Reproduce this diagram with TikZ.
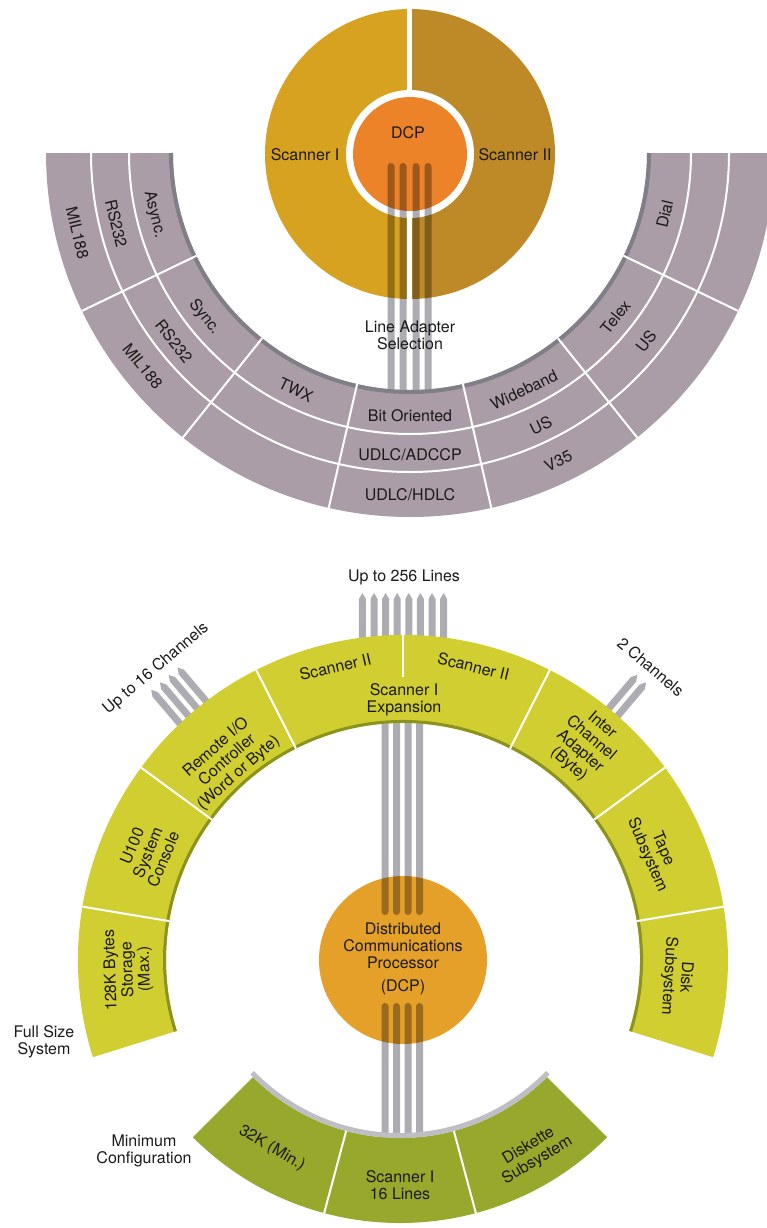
\documentclass[tikz,border=0pt]{standalone}
\usepackage{fontspec}
\setmainfont{TeX Gyre Heros}
\usetikzlibrary{calc}
\definecolor{scanA}{RGB}{214,162,32}
\definecolor{scanB}{RGB}{190,138,40}
\definecolor{dcpTop}{RGB}{236,131,40}
\definecolor{mauve}{RGB}{171,157,167}
\definecolor{mauveEdge}{RGB}{128,126,134}
\definecolor{ylw}{RGB}{208,206,48}
\definecolor{ylwEdge}{RGB}{140,146,30}
\definecolor{grn}{RGB}{152,168,44}
\definecolor{grnEdge}{RGB}{190,190,196}
\definecolor{dcpBot}{RGB}{229,160,42}
\definecolor{barGray}{RGB}{172,172,178}
\definecolor{ink}{RGB}{26,26,26}
\tikzset{
  lbl/.style={font=\fontsize{16}{17}\selectfont, text=ink, align=center, inner sep=0pt},
  divider/.style={draw=white, line width=2pt},
}
% annular sector: center, r1, r2, a1, a2, options
\newcommand\annsec[6]{\path[#6] ([shift={(#1)}]#4:#2pt) arc[start angle=#4,end angle=#5,radius=#2pt] -- ([shift={(#1)}]#5:#3pt) arc[start angle=#5,end angle=#4,radius=#3pt] -- cycle;}
% radial divider: center, angle, r1, r2
\newcommand\raddiv[4]{\draw[divider] ([shift={(#1)}]#2:#3pt) -- ([shift={(#1)}]#2:#4pt);}
% ring arc: center, radius, a1, a2
\newcommand\ringarc[4]{\draw[divider] ([shift={(#1)}]#3:#2pt) arc[start angle=#3,end angle=#4,radius=#2pt];}
% band label: center, angle, radius, rotation, name, text
\newcommand\blabel[6]{\node[lbl, rotate=#4] (#5) at ([shift={(#1)}]#2:#3pt) {#6};}
% arrow bar: center, angle, offset, r1, r2
\newcommand\arrowbar[5]{\begin{scope}[shift={(#1)}, rotate=#2]
  \fill[barGray] (#4pt,#3pt-3.5pt) -- (#5pt-6pt,#3pt-3.5pt) -- (#5pt,#3pt) -- (#5pt-6pt,#3pt+3.5pt) -- (#4pt,#3pt+3.5pt) -- cycle;
  \end{scope}}
% vertical bar: x, ybottom, ytop
\newcommand\vbar[3]{\fill[barGray, rounded corners=3.4pt] (#1pt-3.5pt,#2pt) rectangle (#1pt+3.5pt,#3pt);}
\begin{document}
\begin{tikzpicture}[x=1pt,y=1pt]
\useasboundingbox (0,0) rectangle (766,-1228);
\coordinate (TC) at (410,-153);
\coordinate (SC) at (410,-154);
\coordinate (BC) at (403,-960);
\coordinate (GC) at (400,-930);

% ===== top: scanners and DCP =====
\fill[scanA] ([shift={(SC)}]90:145pt) arc[start angle=90,end angle=270,radius=145pt] -- cycle;
\fill[scanB] ([shift={(SC)}]-90:145pt) arc[start angle=-90,end angle=90,radius=145pt] -- cycle;
\draw[white, line width=4.5pt] (409.5,-8) -- (409.5,-300);
\fill[white] (SC) circle[radius=64pt];
\fill[dcpTop] (SC) circle[radius=57pt];
\begin{scope}[blend mode=multiply]
  \vbar{391}{-400}{-163}
  \vbar{403}{-400}{-163}
  \vbar{416}{-400}{-163}
  \vbar{428}{-400}{-163}
\end{scope}
\node[lbl] (dcpA) at (408,-133) {DCP};
\node[lbl] (scan1) at (305,-155) {Scanner I};
\node[lbl] (scan2) at (515,-155) {Scanner II};
\node[lbl] (las) at (410,-335) {Line Adapter\\Selection};

% ===== top band =====
\annsec{TC}{237}{364}{180}{360}{fill=mauve}
\draw[mauveEdge, line width=4pt] ([shift={(TC)}]180:239pt) arc[start angle=180,end angle=360,radius=239pt];
\ringarc{TC}{281}{180}{360}
\ringarc{TC}{319}{180}{360}
\foreach \a in {205.7,231.4,257.1,282.9,308.6,334.3} {\raddiv{TC}{\a}{237}{364}}
\blabel{TC}{193.5}{263}{283.5}{async}{Async.}
\blabel{TC}{193.5}{302}{283.5}{rsA}{RS232}
\blabel{TC}{193.5}{342}{283.5}{milA}{MIL188}
\blabel{TC}{218.6}{263}{308.6}{sync}{Sync.}
\blabel{TC}{218.6}{302}{308.6}{rsB}{RS232}
\blabel{TC}{218.6}{342}{308.6}{milB}{MIL188}
\blabel{TC}{244.3}{263}{334.3}{twx}{TWX}
\blabel{TC}{270}{263}{0}{bit}{Bit Oriented}
\blabel{TC}{270}{302}{0}{adccp}{UDLC/ADCCP}
\blabel{TC}{270}{342}{0}{hdlc}{UDLC/HDLC}
\blabel{TC}{295.7}{263}{25.7}{wide}{Wideband}
\blabel{TC}{295.7}{302}{25.7}{usA}{US}
\blabel{TC}{295.7}{342}{25.7}{v35}{V35}
\blabel{TC}{321.4}{263}{51.4}{telex}{Telex}
\blabel{TC}{321.4}{302}{51.4}{usB}{US}
\blabel{TC}{346.5}{262}{76.5}{dial}{Dial}

% ===== bottom: DCP and bars =====
\fill[dcpBot] (BC) circle[radius=84pt];
\begin{scope}[blend mode=multiply]
  \foreach \x in {385,396.5,408,419.5} {\vbar{\x}{-915}{-700}}
  \foreach \x in {385,396.5,408,419.5} {\vbar{\x}{-1150}{-1003}}
  \foreach \o in {-40.6,-29,-17.4,-5.8,5.8,17.4,29,40.6} {\arrowbar{BC}{90}{\o}{300}{367}}
  \foreach \o in {-17.25,-5.75,5.75,17.25} {\arrowbar{BC}{130.3}{\o}{300}{369}}
  \foreach \o in {-5.75,5.75} {\arrowbar{BC}{49.7}{\o}{300}{369}}
\end{scope}
\node[lbl] (dcptxt) at (403,-946) {Distributed\\Communications\\Processor};
\node[lbl] (dcpabbr) at (403,-987) {(DCP)};
\node[lbl] (lines256) at (404,-577) {Up to 256 Lines};
\blabel{BC}{130.3}{382}{40.3}{ch16}{Up to 16 Channels}
\blabel{BC}{49.8}{384}{-40.2}{ch2}{2 Channels}

% ===== yellow band =====
\annsec{BC}{237}{325}{-17.4}{197.4}{fill=ylw}
\draw[ylwEdge, line width=3pt] ([shift={(BC)}]-17.4:238.5pt) arc[start angle=-17.4,end angle=197.4,radius=238.5pt];
\foreach \a in {9.45,36.3,63.15,116.85,143.7,170.55} {\raddiv{BC}{\a}{237}{325}}
\raddiv{BC}{90}{283}{325}
\blabel{BC}{182}{275}{92}{stor}{128K Bytes\\Storage\\(Max.)}
\blabel{BC}{157.2}{277}{67.2}{cons}{U100\\System\\Console}
\blabel{BC}{131.3}{266}{41.3}{rio}{Remote I/O\\Controller\\(Word or Byte)}
\blabel{BC}{103}{301}{13}{scIIa}{Scanner II}
\node[lbl] (scexp) at (404,-700) {Scanner I\\Expansion};
\blabel{BC}{76.5}{302}{-13.5}{scIIb}{Scanner II}
\blabel{BC}{49.7}{282}{-40.3}{ica}{Inter\\Channel\\Adapter\\(Byte)}
\blabel{BC}{23.2}{274}{-66.8}{tape}{Tape\\Subsystem}
\blabel{BC}{-3.5}{274.5}{-93.5}{disk}{Disk\\Subsystem}

% ===== green arc =====
\annsec{GC}{208}{293}{225}{315}{fill=grn}
\draw[grnEdge, line width=5pt] ([shift={(GC)}]224:205.5pt) arc[start angle=224,end angle=316,radius=205.5pt];
\raddiv{GC}{255}{208}{293}
\raddiv{GC}{285}{208}{293}
\blabel{GC}{239.6}{253}{329.6}{k32}{32K (Min.)}
\node[lbl] (sc16) at (400,-1185) {Scanner I\\16 Lines};
\blabel{GC}{300.8}{260}{30.8}{dsk}{Diskette\\Subsystem}

\node[lbl] (full) at (44,-1042) {Full Size\\System};
\node[lbl] (minc) at (144,-1151) {Minimum\\Configuration};
\end{tikzpicture}
\end{document}
